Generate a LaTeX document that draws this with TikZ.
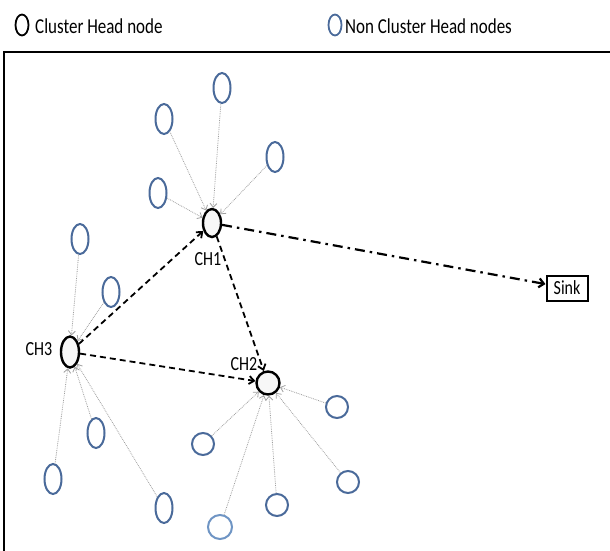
\documentclass[tikz,border=0pt]{standalone}
\usepackage{fontspec}
\setmainfont{Carlito}
\usetikzlibrary{shapes.geometric,arrows.meta}
\definecolor{nodeblue}{HTML}{4A6A9A}
\definecolor{paleblue}{HTML}{6F95C4}
\newcommand{\tall}[1]{\scalebox{1}[1.25]{#1}}
\begin{document}
\begin{tikzpicture}[x=1pt,y=-1pt,
  member/.style={ellipse,draw=nodeblue,line width=2pt,minimum width=17pt,minimum height=30pt,inner sep=0pt},
  memberc/.style={circle,draw=nodeblue,line width=2pt,minimum size=22pt,inner sep=0pt},
  head/.style={ellipse,draw=black,line width=2.4pt,fill=gray!6,inner sep=0pt},
  lbl/.style={font=\fontsize{16}{16}\selectfont,inner sep=0pt},
  feed/.style={draw=gray!75,line width=0.8pt,densely dotted,-{Straight Barb[length=4pt,width=7pt]}},
  hop/.style={draw=black,line width=1.8pt,dash pattern=on 6pt off 4pt,-{Straight Barb[length=5pt,width=8pt]}},
  uplink/.style={draw=black,line width=2.2pt,dash pattern=on 10pt off 5pt on 2.5pt off 5pt,-{Straight Barb[length=5pt,width=9pt]}}
]
\useasboundingbox (0,0) rectangle (610,550);

% outer frame (runs off the right and bottom edges)
\begin{scope}
  \clip (0,0) rectangle (610,550);
  \draw[line width=2pt] (3.5,560) -- (3.5,52) -- (620,52);
\end{scope}

% legend
\node[ellipse,draw=black,line width=1.8pt,minimum width=13pt,minimum height=21pt,inner sep=0pt] (lgch) at (22,25) {};
\node[lbl,anchor=west,font=\fontsize{17}{17}\selectfont] (lgchtxt) at (35,26) {\tall{Cluster Head node}};
\node[ellipse,draw=nodeblue,line width=1.8pt,minimum width=13pt,minimum height=21pt,inner sep=0pt] (lgm) at (335,25) {};
\node[lbl,anchor=west,font=\fontsize{17}{17}\selectfont] (lgmtxt) at (345,26) {\tall{Non Cluster Head nodes}};

% cluster heads
\node[head,minimum width=18pt,minimum height=28pt] (ch1) at (212,223) {};
\node[head,minimum width=18pt,minimum height=31pt] (ch3) at (70,352) {};
\node[head,circle,minimum size=23pt] (ch2) at (268,383) {};
\node[lbl] (ch1l) at (208,259) {\tall{CH1}};
\node[lbl] (ch3l) at (39,349) {\tall{CH3}};
\node[lbl] (ch2l) at (244,364) {\tall{CH2}};

% sink
\node[draw=black,line width=2pt,minimum width=41pt,minimum height=25pt,inner sep=0pt,lbl] (sink) at (567,288) {\tall{Sink}};

% members of CH1
\node[member] (a1) at (222,88) {};
\node[member] (a2) at (164,119) {};
\node[member] (a3) at (275,157) {};
\node[member] (a4) at (158,193) {};

% members of CH3
\node[member] (b1) at (80,239) {};
\node[member] (b2) at (111,292) {};
\node[member] (b3) at (96,433) {};
\node[member] (b4) at (53,479) {};
\node[member] (b5) at (164,508) {};

% members of CH2
\node[memberc] (c1) at (337,407) {};
\node[memberc] (c2) at (203,444) {};
\node[memberc] (c3) at (348,482) {};
\node[memberc] (c4) at (277,505) {};
\node[memberc,draw=paleblue,minimum size=24pt] (c5) at (220,527) {};

% member-to-head links
\foreach \m in {a1,a2,a3,a4} \draw[feed] (\m) -- (ch1);
\foreach \m in {b1,b2,b3,b4,b5} \draw[feed] (\m) -- (ch3);
\foreach \m in {c1,c2,c3,c4,c5} \draw[feed] (\m) -- (ch2);

% head-to-head links and uplink to the sink
\draw[hop] (ch3) -- (ch1);
\draw[hop] (ch3) -- (ch2);
\draw[hop] (ch1) -- (ch2);
\draw[uplink] (ch1) -- (sink);
\end{tikzpicture}
\end{document}
